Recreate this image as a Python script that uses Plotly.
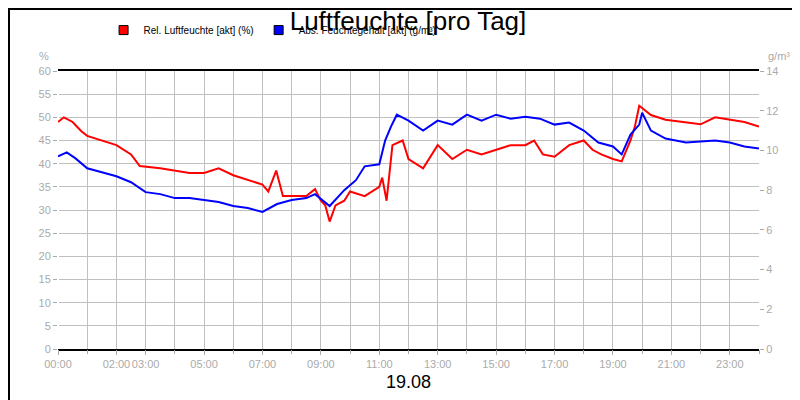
import plotly.graph_objects as go

# hours of the day
rel_t = [0, 0.2, 0.5, 0.8, 1.0, 1.5, 2.0, 2.5, 2.8, 3.5, 4.0, 4.5, 5.0, 5.5, 6.0, 6.5, 7.0, 7.2,
         7.47, 7.7, 8.0, 8.5, 8.8, 9.0, 9.15, 9.3, 9.5, 9.8, 10.0, 10.5, 11.0, 11.1, 11.25, 11.45,
         11.8, 12.0, 12.5, 13.0, 13.5, 14.0, 14.5, 15.0, 15.5, 16.0, 16.3, 16.6, 17.0, 17.5, 18.0,
         18.3, 18.6, 19.0, 19.3, 19.6, 19.75, 19.9, 20.3, 20.8, 21.5, 22.0, 22.5, 23.0, 23.5, 24.0]
rel_hum = [49, 50, 49, 47, 46, 45, 44, 42, 39.5, 39, 38.5, 38, 38, 39, 37.5, 36.5, 35.5, 34,
           38.5, 33, 33, 33, 34.5, 32, 31, 27.5, 31, 32, 34, 33, 35, 37, 32, 44,
           45, 41, 39, 44, 41, 43, 42, 43, 44, 44, 45, 42, 41.5, 44, 45,
           43, 42, 41, 40.5, 45, 48, 52.5, 50.5, 49.5, 49, 48.5, 50, 49.5, 49, 48]

abs_t = [0, 0.3, 0.6, 1.0, 1.5, 2.0, 2.5, 3.0, 3.5, 4.0, 4.5, 5.0, 5.5, 6.0, 6.5, 7.0, 7.5, 8.0,
         8.5, 8.8, 9.3, 9.8, 10.2, 10.5, 11.0, 11.2, 11.4, 11.6, 12.0, 12.5, 13.0, 13.5, 14.0, 14.5,
         15.0, 15.5, 16.0, 16.5, 17.0, 17.5, 18.0, 18.5, 19.0, 19.3, 19.6, 19.9, 20.0, 20.3, 20.8,
         21.5, 22.5, 23.0, 23.5, 24.0]
abs_hum = [9.7, 9.9, 9.6, 9.1, 8.9, 8.7, 8.4, 7.9, 7.8, 7.6, 7.6, 7.5, 7.4, 7.2, 7.1, 6.9, 7.3, 7.5,
           7.6, 7.8, 7.2, 8.0, 8.5, 9.2, 9.3, 10.5, 11.2, 11.8, 11.5, 11.0, 11.5, 11.3, 11.8, 11.5,
           11.8, 11.6, 11.7, 11.6, 11.3, 11.4, 11.0, 10.4, 10.2, 9.8, 10.8, 11.3, 11.9, 11.0, 10.6,
           10.4, 10.5, 10.4, 10.2, 10.1]

tick_hours = [0, 2, 3, 5, 7, 9, 11, 13, 15, 17, 19, 21, 23]
tick_text = [f"{h:02d}:00" for h in tick_hours]

grey = "#aaaaaa"
fig = go.Figure()
# dummy trace to draw the hourly grid
fig.add_trace(go.Scatter(x=[0, 24], y=[None, None], xaxis="x2", showlegend=False, hoverinfo="skip"))
fig.add_trace(go.Scatter(x=rel_t, y=rel_hum, mode="lines", showlegend=False,
                         line=dict(color="#ff0000", width=2)))
fig.add_trace(go.Scatter(x=abs_t, y=abs_hum, mode="lines", showlegend=False,
                         line=dict(color="#0000ff", width=2), yaxis="y2"))
# square legend entries
for name, col in [("Rel. Luftfeuchte [akt] (%)", "#ff0000"),
                  ("Abs. Feuchtegehalt [akt] (g/m³)", "#0000ff")]:
    fig.add_trace(go.Scatter(x=[None], y=[None], mode="markers", name=name,
                             marker=dict(symbol="square", size=9, color=col,
                                         line=dict(color="black", width=1))))

fig.update_layout(
    width=800, height=400, margin=dict(l=50, r=49, t=63, b=59, autoexpand=False),
    paper_bgcolor="white", plot_bgcolor="white",
    font=dict(family="Liberation Sans, Arial", size=11, color="black"),
    title=dict(text="Luftfeuchte [pro Tag]", x=0.5, y=0.99, yanchor="top",
               font=dict(size=26)),
    showlegend=True,
    legend=dict(orientation="h", x=0.065, y=1.095, xanchor="left", yanchor="bottom",
                font=dict(size=10), itemwidth=30, tracegroupgap=0, bgcolor="rgba(0,0,0,0)"),
    xaxis=dict(range=[0, 24], tickvals=tick_hours, ticktext=tick_text, tickangle=0,
               tickfont=dict(color=grey, size=11), showgrid=False, automargin=False,
               ticks="outside", ticklen=4, tickcolor=grey,
               showline=True, linecolor="black", linewidth=2, mirror=True,
               title=dict(text="19.08", font=dict(size=18), standoff=6)),
    xaxis2=dict(range=[0, 24], dtick=1, overlaying="x", showgrid=True, gridcolor="#c0c0c0",
                showticklabels=False, ticks="outside", ticklen=4, tickcolor=grey, automargin=False),
    yaxis=dict(range=[0, 60], dtick=5, showgrid=True, gridcolor="#c0c0c0", automargin=False,
               tickfont=dict(color=grey), ticks="outside", ticklen=4, tickcolor=grey,
               zeroline=False),
    yaxis2=dict(range=[0, 14], dtick=2, overlaying="y", side="right", showgrid=False,
                tickfont=dict(color=grey), ticks="outside", ticklen=4, tickcolor=grey,
                zeroline=False, automargin=False),
    shapes=[dict(type="rect", xref="paper", yref="paper", x0=-0.0699, x1=1.0685,
                 y0=-0.2086, y1=1.2230, line=dict(color="black", width=2))],
    annotations=[
        dict(text="%", xref="paper", yref="paper", x=-0.01, y=1.025, showarrow=False,
             font=dict(color=grey, size=11), xanchor="right", yanchor="bottom"),
        dict(text="g/m³", xref="paper", yref="paper", x=1.01, y=1.025, showarrow=False,
             font=dict(color=grey, size=11), xanchor="left", yanchor="bottom"),
    ],
)
fig.write_html("out.html")
